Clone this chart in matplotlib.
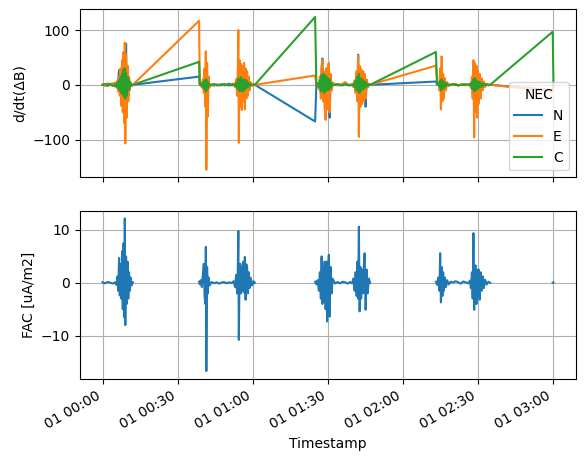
import numpy as np
import pandas as pd
import matplotlib
matplotlib.use("Agg")
import matplotlib.pyplot as plt
import matplotlib.dates as mdates
from matplotlib.ticker import MultipleLocator

# ---------------- data (minutes after 00:00 on day 01) ----------------
t1 = [0.0, 1.0, 2.0, 3.0, 4.0, 5.0, 5.6, 6.0, 6.3, 6.6, 6.9, 7.2, 7.5, 7.8, 8.1, 8.4, 8.7, 8.9, 9.1, 9.4,
      9.7, 10.0, 10.3, 10.6, 10.9, 11.2, 11.6, 12.1]
fac1 = [0.1, -0.1, 0.15, 0.05, -0.15, 0.1, -0.4, 1.2, -1.5, 4.7, -2.4, 3.5, -3.0, 6.0, -5.0, 7.5, -6.5, 12.2,
        -8.0, 5.0, -4.0, 4.0, -3.0, 2.0, -1.5, 1.0, -0.5, 0.1]
n1 = [0, 1, -2, 1, 2, -3, 4, -6, 10, 27, -8, 15, -20, 30, -25, 40, -35, 60, -60, 75, -40, 30, -20, 12, -8, 4, -2, 0]
e1 = [0, -2, 3, -1, 2, 4, -5, 8, -12, 15, -20, 30, -38, 45, -50, 60, -70, 77, -107, 55, -60, 35, -30, 15, -10, 5, -2, 0]
c1 = [0, 1, -1, 2, -2, 1, -3, 5, -6, 8, -10, 14, -15, 20, -18, 28, -22, 30, -25, 22, -20, 14, -10, 8, -5, 3, -1, 0]

t2 = [38.6, 38.9, 39.3, 39.7, 40.1, 40.5, 40.8, 41.1, 41.3, 41.5, 41.8, 42.1, 42.4, 42.8, 43.6, 44.6, 45.6,
      46.6, 47.6, 48.6, 49.6, 50.6, 51.6, 52.4, 53.0, 53.4, 53.8, 54.1, 54.3, 54.5, 54.8, 55.1, 55.4, 55.7,
      56.0, 56.3, 56.6, 56.9, 57.2, 57.5, 57.8, 58.1, 58.4, 58.8, 59.2, 59.8, 60.4, 60.9]
fac2 = [0.2, -0.3, 0.5, -0.8, 1.5, 3.6, -2.5, -4.0, 6.8, -16.7, 3.0, -2.0, 1.0, -0.5, 0.15, -0.1, 0.1, -0.15,
        0.05, 0.15, -0.1, 0.1, -0.05, 0.3, -0.8, 1.5, -2.0, 3.0, 9.8, -10.8, 2.5, 3.6, -2.0, 3.0, -1.5, 4.0,
        -1.8, 4.9, -3.2, 3.5, 3.0, -2.0, 2.0, -1.0, 1.0, -0.5, 0.3, 0.0]
n2 = [15, 0, 2, -3, 5, -8, 12, -15, 20, -18, 10, -6, 3, -1, 0, 1, -1, 0, 1, -1, 0, 2, -1, 0, -2, 4, -6, 8,
      15, -12, 10, -15, 12, -30, 8, -10, 12, -8, 6, -10, 5, -4, 3, -2, 1, 0, 0, 0]
e2 = [117, 0, 3, -5, 10, -15, 30, -40, 61, -155, 40, -58, 15, -5, 1, -2, 1, 0, -1, 2, 0, -1, 1, 2, -4, 10,
      -20, 30, 100, -106, 45, -40, 38, -46, 34, -30, 40, -45, 30, -25, 25, -20, 15, -10, 5, -2, 1, 0]
c2 = [42, 0, 1, -2, 4, -6, 8, -10, 10, -12, 8, -6, 3, -1, 0, 1, 0, -1, 0, 1, 0, -1, 0, 1, -2, 4, -6, 8, 12,
      -10, 10, -12, 14, -10, 8, -12, 10, -8, 9, -6, 6, -4, 3, -2, 1, 0, 0, 0]

t3 = [85.0, 85.5, 86.0, 86.5, 86.9, 87.3, 87.6, 87.9, 88.2, 88.5, 88.8, 89.2, 89.5, 89.8, 90.2, 90.5, 90.8,
      91.2, 91.6, 92.0, 93.0, 94.0, 95.0, 96.0, 97.0, 98.0, 99.0, 99.8, 100.3, 100.8, 101.2, 101.6, 101.9,
      102.2, 102.5, 102.8, 103.1, 103.4, 103.8, 104.2, 104.5, 104.8, 105.2, 105.6, 106.0, 106.5, 107.0]
fac3 = [0.2, -0.3, 0.5, -1.5, 2.0, -3.0, 5.0, -4.0, 3.0, -3.5, 4.0, -5.0, 4.0, -7.3, 3.0, 5.3, -6.4, 3.0,
        -2.0, 0.8, -0.15, 0.15, -0.1, 0.2, 0.1, -0.15, 0.15, -0.1, 0.8, -1.5, 2.0, -2.5, 4.0, -3.0, 10.6, -5.4,
        3.0, -3.0, 2.5, -2.0, 3.5, 5.6, -5.1, 2.5, -2.0, 0.8, 0.0]
n3 = [-67, 0, 2, -5, 10, -15, 25, 48, -20, 15, -25, 20, -30, 25, -35, 30, -60, 15, -8, 3, 0, 1, -1, 0, 2,
      -1, 0, 1, -3, 6, -10, 15, -20, 55, -30, 20, -25, 15, -20, 12, -15, 10, -40, 8, -4, 1, 0]
e3 = [17, 0, 3, -8, 15, -25, 35, 46, -30, 25, -40, -64, 30, -45, 35, 40, -50, 20, -10, 4, 1, -1, 0, 2, 5,
      1, -1, 0, -4, 8, -15, 25, -30, 53, -95, 35, -40, 30, -35, 25, -30, 20, -25, 10, -5, 2, 0]
c3 = [124, 0, 2, -4, 8, -12, 18, -10, 20, -15, 18, -12, 15, -10, 12, -9, 10, -6, 3, -1, 0, 1, 0, -1, 1, 0,
      -1, 0, 2, -4, 8, -10, 15, -12, 20, -15, 12, -10, 10, -8, 8, -6, 5, -3, 2, -1, 0]

t4 = [133.3, 133.8, 134.3, 134.7, 135.0, 135.3, 135.6, 135.9, 136.2, 136.5, 136.9, 137.3, 137.8, 138.4,
      139.2, 140.2, 141.2, 142.2, 143.2, 144.2, 145.2, 146.2, 146.9, 147.3, 147.7, 148.0, 148.3, 148.6,
      148.9, 149.2, 149.5, 149.8, 150.1, 150.4, 150.8, 151.2, 151.6, 152.0, 152.5, 153.0, 153.6, 154.3, 155.0]
fac4 = [0.2, -0.4, 1.0, -1.5, 5.6, -3.7, 3.0, -2.5, 2.0, -1.5, 1.0, -0.8, 0.5, -0.3, 0.2, 0.05, 0.3, 0.1,
        -0.15, 0.25, 0.1, -0.1, 0.4, -1.0, 2.0, -3.0, 9.4, -5.1, 3.0, 3.3, -4.0, 2.5, -2.5, 2.5, -3.2, 2.0,
        -1.5, 1.2, -1.0, 0.6, -0.3, 0.2, 0.0]
n4 = [6, 0, 2, -4, 15, -12, 10, -8, 6, -5, 3, -2, 1, 0, 0, 1, 0, -1, 0, 1, 0, 0, 1, -3, 6, -10, 15, -20, 10,
      -42, 12, -15, 8, -10, 6, -8, 4, -3, 2, -1, 1, 0, 0]
e4 = [35, 0, 4, -10, 30, -45, 52, -30, 20, -25, 12, -10, 5, -2, 1, 0, 2, -1, 0, 1, -1, 0, 2, -6, 15, -25,
      45, -96, 40, -50, 35, -60, 25, -35, 20, -25, 12, -10, 6, -4, 2, -1, 0]
c4 = [60, 0, 2, -3, 8, -10, 10, -8, 6, -5, 4, -3, 2, -1, 0, 1, 0, -1, 0, 0, 1, 0, 1, -2, 5, -8, 10, -12, 12,
      -10, 8, -8, 6, -6, 5, -4, 3, -3, 2, -1, 1, 0, 0]

t5 = [180.0, 180.3]
fac5 = [0.0, 0.1]
n5 = [-10, 0]
e5 = [-12, 0]
c5 = [97, 0]

components = ["N", "E", "C"]
passes = [
    (t1, fac1, n1, e1, c1),
    (t2, fac2, n2, e2, c2),
    (t3, fac3, n3, e3, c3),
    (t4, fac4, n4, e4, c4),
    (t5, fac5, n5, e5, c5),
]

base = pd.Timestamp("2020-01-01 00:00:00")


def to_time(mins):
    return base + pd.to_timedelta(np.asarray(mins, dtype=float), unit="m")


# ---------------- figure ----------------
W, H = 585, 461
fig = plt.figure(figsize=(W / 100, H / 100), dpi=100)
ax1 = fig.add_axes([80 / W, (H - 177.3) / H, 496 / W, 168 / H])
ax2 = fig.add_axes([80 / W, (H - 378.7) / H, 496 / W, 168 / H], sharex=ax1)

all_t = np.concatenate([np.asarray(p[0], float) for p in passes])
times = to_time(all_t)
colors = ["tab:blue", "tab:orange", "tab:green"]
for k, (name, col) in enumerate(zip(components, colors)):
    vals = np.concatenate([np.asarray(p[2 + k], float) for p in passes])
    ax1.plot(times, vals, color=col, label=name, lw=1.5)

for p in passes:
    ax2.plot(to_time(p[0]), p[1], color="tab:blue", lw=1.5)

ax1.set_ylabel("d/dt(\u0394B)")
ax2.set_ylabel("FAC [uA/m2]")
ax2.set_xlabel("Timestamp")

ax1.yaxis.set_major_locator(MultipleLocator(100))
ax2.yaxis.set_major_locator(MultipleLocator(10))

ax2.xaxis.set_major_locator(mdates.MinuteLocator(byminute=[0, 30]))
ax2.xaxis.set_major_formatter(mdates.DateFormatter("%d %H:%M"))
ax1.tick_params(labelbottom=False)
plt.setp(ax2.get_xticklabels(), rotation=30, ha="right")

ax1.grid(True)
ax2.grid(True)
ax1.legend(title="NEC", loc="lower right")

fig.savefig("out.png", dpi=100)
